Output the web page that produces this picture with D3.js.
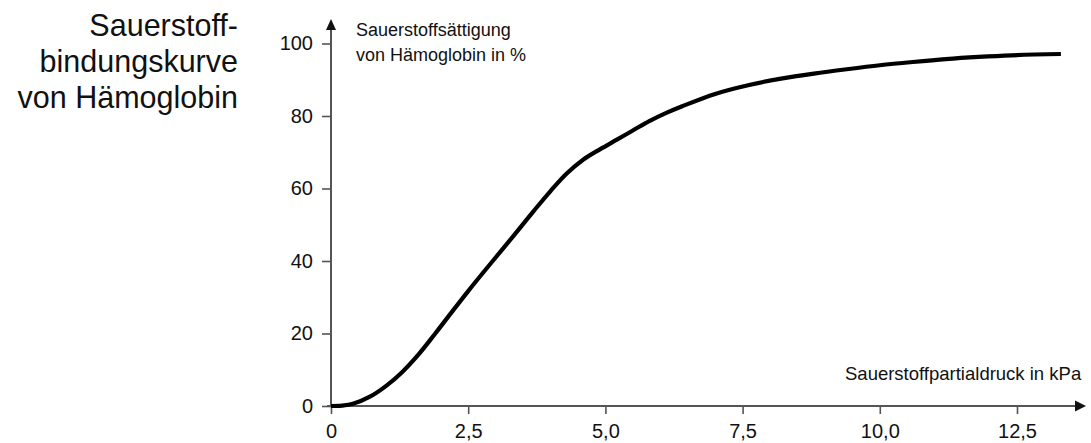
<!DOCTYPE html>
<html>
<head>
<meta charset="utf-8">
<script src="https://cdn.jsdelivr.net/npm/d3@7"></script>
<style>
  body { margin: 0; background: #fff; }
  svg text { font-family: "Liberation Sans", Arial, sans-serif; fill: #111; }
</style>
</head>
<body>
<div id="chart"></div>
<script>
// --- Sauerstoffbindungskurve ---
const pressure = [0, 0.2, 0.4, 0.7, 1.0, 1.3, 1.6, 1.9, 2.2, 2.5, 2.8, 3.1, 3.4, 3.7, 4.0, 4.3, 4.6, 4.9, 5.2, 5.5, 5.8, 6.1, 6.4, 7.0, 7.6, 8.2, 8.8, 9.4, 10.0, 10.6, 11.2, 11.8, 12.4, 13.3];
const saturation = [0, 0.1, 0.6, 2.5, 5.5, 9.4, 14.3, 20.0, 25.9, 31.7, 37.3, 42.8, 48.3, 53.9, 59.3, 64.2, 68.0, 70.8, 73.4, 76.0, 78.6, 80.8, 82.7, 86.1, 88.5, 90.3, 91.7, 92.9, 94.0, 94.9, 95.7, 96.3, 96.75, 97.1];
const xTicks = [0, 2.5, 5, 7.5, 10, 12.5];
const yTicks = [0, 20, 40, 60, 80, 100];
const titleLines = ["Sauerstoff-", "bindungskurve", "von Hämoglobin"];
const yLabelLines = ["Sauerstoffsättigung", "von Hämoglobin in %"];
const xLabel = "Sauerstoffpartialdruck in kPa";

const data = pressure.map((p, i) => ({ p: p, s: saturation[i] }));

const W = 1091, H = 443;
const x0 = 331, y0 = 406;

const svg = d3.select("#chart")
    .append("svg")
    .attr("width", W)
    .attr("height", H);

const x = d3.scaleLinear().domain([0, 12.5]).range([x0, 1017]);
const y = d3.scaleLinear().domain([0, 100]).range([y0, 43.5]);

const axisColor = "#555";

// x axis
const xAxis = svg.append("g")
    .attr("transform", `translate(0,${y0})`)
    .call(d3.axisBottom(x).tickValues(xTicks).tickSize(8).tickPadding(10)
        .tickFormat(d => d === 0 ? "0" : d3.format(".1f")(d).replace(".", ",")));
xAxis.select(".domain").remove();
xAxis.selectAll(".tick line").attr("stroke", axisColor).attr("stroke-width", 1.6);
xAxis.selectAll(".tick text").attr("font-size", 20).attr("fill", "#111")
    .attr("font-family", "Liberation Sans, Arial, sans-serif");

// y axis
const yAxis = svg.append("g")
    .attr("transform", `translate(${x0},0)`)
    .call(d3.axisLeft(y).tickValues(yTicks).tickSize(9).tickPadding(9));
yAxis.select(".domain").remove();
yAxis.selectAll(".tick line").attr("stroke", axisColor).attr("stroke-width", 1.6);
yAxis.selectAll(".tick text").attr("font-size", 20).attr("fill", "#111")
    .attr("font-family", "Liberation Sans, Arial, sans-serif");

// axis lines with arrows
svg.append("line")
    .attr("x1", x0 - 4).attr("y1", y0).attr("x2", 1076).attr("y2", y0)
    .attr("stroke", axisColor).attr("stroke-width", 2);
svg.append("path")
    .attr("d", `M1086,${y0} L1075,${y0 - 5.5} L1075,${y0 + 5.5} Z`)
    .attr("fill", "#111");

svg.append("line")
    .attr("x1", x0).attr("y1", y0 + 1).attr("x2", x0).attr("y2", 29)
    .attr("stroke", axisColor).attr("stroke-width", 2);
svg.append("path")
    .attr("d", `M${x0},19 L${x0 - 5},30 L${x0 + 5},30 Z`)
    .attr("fill", "#111");

// curve
svg.append("path")
    .datum(data)
    .attr("fill", "none")
    .attr("stroke", "#000")
    .attr("stroke-width", 4.2)
    .attr("stroke-linecap", "butt")
    .attr("d", d3.line()
        .x(d => x(d.p))
        .y(d => y(d.s))
        .curve(d3.curveCatmullRom.alpha(0.5)));

// axis labels
svg.append("g").selectAll("text")
    .data(yLabelLines)
    .enter()
    .append("text")
    .attr("x", 356)
    .attr("y", (d, i) => 36 + i * 24.5)
    .attr("font-size", 18)
    .text(d => d);

svg.append("text")
    .attr("x", 845)
    .attr("y", 380)
    .attr("font-size", 18.5)
    .text(xLabel);

// title
svg.append("g").selectAll("text")
    .data(titleLines)
    .enter()
    .append("text")
    .attr("x", 238)
    .attr("y", (d, i) => 35.7 + i * 36.2)
    .attr("text-anchor", "end")
    .attr("font-size", 30.5)
    .text(d => d);
</script>
</body>
</html>
